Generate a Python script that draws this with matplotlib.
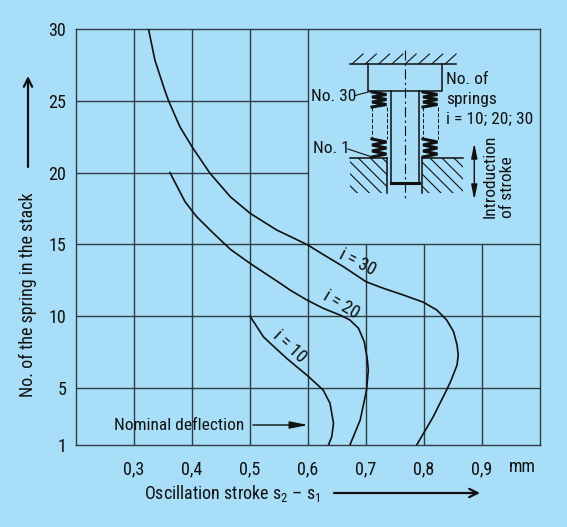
import numpy as np
import matplotlib
matplotlib.use("Agg")
import matplotlib.pyplot as plt
from matplotlib import font_manager as fm
from matplotlib.patches import Rectangle

names = {f.name for f in fm.fontManager.ttflist}
fam = 'Liberation Sans'
for cand in ['Roboto Condensed', 'Archivo Narrow', 'PT Sans Narrow', 'Asap Condensed',
             'IBM Plex Sans Condensed', 'Liberation Sans Narrow']:
    if cand in names:
        fam = cand
        break
plt.rcParams['font.family'] = [fam, 'DejaVu Sans']
plt.rcParams['mathtext.fontset'] = 'custom'
plt.rcParams['mathtext.rm'] = fam

BG = '#a8def7'
GRID = '#2e3b44'
INK = '#111111'

# curve data: x = oscillation stroke (mm), y = spring number
i30_x = [0.325, 0.336, 0.351, 0.359, 0.379, 0.400, 0.431, 0.466, 0.500, 0.546, 0.572,
         0.600, 0.626, 0.661, 0.700, 0.730, 0.764, 0.799, 0.822, 0.839, 0.851, 0.857,
         0.859, 0.857, 0.847, 0.839, 0.816, 0.787]
i30_y = [30.0, 27.84, 25.98, 25.06, 23.20, 21.80, 19.95, 18.32, 17.17, 16.00, 15.50,
         14.95, 14.30, 13.45, 12.40, 11.94, 11.48, 10.97, 10.43, 9.74, 8.92, 8.00,
         7.30, 6.60, 5.56, 4.86, 3.00, 1.0]
i20_x = [0.362, 0.388, 0.408, 0.437, 0.466, 0.500, 0.552, 0.569, 0.598, 0.626, 0.655,
         0.672, 0.687, 0.697, 0.702, 0.704, 0.701, 0.690, 0.672]
i20_y = [20.0, 17.97, 16.93, 15.77, 14.66, 13.68, 12.29, 11.82, 11.13, 10.55, 10.08,
         9.74, 9.16, 8.22, 7.07, 6.25, 4.86, 2.77, 1.0]
i10_x = [0.500, 0.523, 0.535, 0.563, 0.601, 0.626, 0.638, 0.644, 0.641, 0.635]
i10_y = [10.0, 8.57, 8.11, 7.07, 5.79, 4.86, 3.93, 2.54, 1.61, 1.0]

curves = [(i30_x, i30_y), (i20_x, i20_y), (i10_x, i10_y)]
curve_labels = ['i = 30', 'i = 20', 'i = 10']
label_pos = [(0.686, 13.75, -27), (0.658, 10.8, -31), (0.568, 7.9, -43)]

xticks = [0.3, 0.4, 0.5, 0.6, 0.7, 0.8, 0.9]
xticklabels = ['0,3', '0,4', '0,5', '0,6', '0,7', '0,8', '0,9']
yticks = [1, 5, 10, 15, 20, 25, 30]

# region at top right kept free for the sketch
box_x0, box_y0 = 0.6, 15

fig = plt.figure(figsize=(5.67, 5.27), dpi=100, facecolor=BG)
ax = fig.add_axes([76/567, 1-445.4/527, 464/567, 416.4/527])
ax.set_facecolor(BG)
ax.set_xlim(0.2, 1.0)
ax.set_ylim(1, 30)

for x in xticks:
    top = 30 if x <= box_x0 else box_y0
    ax.vlines(x, 1, top, color=GRID, lw=1.0, zorder=1)
for y in yticks[1:-1]:
    right = 1.0 if y <= box_y0 else box_x0
    ax.hlines(y, 0.2, right, color=GRID, lw=1.0, zorder=1)

for s in ax.spines.values():
    s.set_color(GRID)
    s.set_linewidth(1.0)

ax.set_xticks(xticks)
ax.set_xticklabels(xticklabels)
ax.set_yticks(yticks)
ax.tick_params(length=0, labelsize=13, colors=INK)
ax.tick_params(axis='x', pad=11)
ax.tick_params(axis='y', pad=7)

for (cx, cy) in curves:
    ax.plot(cx, cy, color=INK, lw=1.2, zorder=3, solid_joinstyle='round')
for lab, (lx, ly, rot) in zip(curve_labels, label_pos):
    ax.text(lx, ly, lab, rotation=rot, ha='center', va='center', fontsize=13,
            color=INK, rotation_mode='anchor')

ax.text(0.266, 2.42, 'Nominal deflection', ha='left', va='center', fontsize=12.5, color=INK)
ax.annotate('', xy=(0.6, 2.42), xytext=(0.505, 2.42),
            arrowprops=dict(arrowstyle='-|>,head_length=1.1,head_width=0.22',
                            color=INK, lw=1.0, shrinkA=0, shrinkB=0))

# overlay in pixel coordinates for labels and the sketch
ov = fig.add_axes([0, 0, 1, 1], zorder=5)
ov.set_xlim(0, 567)
ov.set_ylim(527, 0)
ov.axis('off')
ov.patch.set_alpha(0)

ov.text(522.6, 466.7, 'mm', ha='center', va='center', fontsize=13, color=INK)
ov.text(144, 493, 'Oscillation stroke s$\\mathregular{_2}$ – s$\\mathregular{_1}$',
        ha='left', va='center', fontsize=13, color=INK)
ov.annotate('', xy=(480, 493), xytext=(334, 493),
            arrowprops=dict(arrowstyle='->,head_length=0.6,head_width=0.3', color=INK, lw=1.6,
                            shrinkA=0, shrinkB=0))
ov.text(28, 397, 'No. of the spring in the stack', rotation=90, ha='center', va='bottom',
        fontsize=13, color=INK)
ov.annotate('', xy=(28, 76), xytext=(28, 167),
            arrowprops=dict(arrowstyle='->,head_length=0.6,head_width=0.3', color=INK, lw=1.6,
                            shrinkA=0, shrinkB=0))

# sketch of the spring stack
lw = 1.1
ov.plot([350, 456], [64, 64], color=INK, lw=lw)
for h in np.arange(352, 452, 13.3):
    ov.plot([h, h + 11], [64, 54], color=INK, lw=0.8)
ov.plot([368, 368, 442, 442], [64, 91, 91, 64], color=INK, lw=lw)
ov.plot([390.7, 390.7], [91, 183], color=INK, lw=lw)
ov.plot([419, 419], [91, 183], color=INK, lw=lw)
ov.plot([390.7, 419], [183, 183], color=INK, lw=2.2)
ov.plot([405, 405], [50, 200], color=INK, lw=0.8, ls=(0, (9, 3, 2, 3)))

for (xl, xr) in [(372.0, 386.5), (423.0, 437.5)]:
    for (ya, yb) in [(92, 107), (139, 157)]:
        ys = np.linspace(ya, yb, 7)
        xs = [xl if k % 2 == 0 else xr for k in range(7)]
        ov.plot(xs, ys, color=INK, lw=2.2, solid_joinstyle='miter')
    ov.plot([xl, xl], [107, 139], color=INK, lw=0.7, ls=(0, (4, 2)))
    ov.plot([xr, xr], [107, 139], color=INK, lw=0.7, ls=(0, (4, 2)))

ov.plot([350, 387.3], [157.7, 157.7], color=INK, lw=lw)
ov.plot([421.7, 463], [157.7, 157.7], color=INK, lw=lw)
ov.plot([387.3, 387.3], [157.7, 193], color=INK, lw=lw)
ov.plot([421.7, 421.7], [157.7, 193], color=INK, lw=lw)
for (r0, r1) in [(350, 387.3), (421.7, 463)]:
    clip = Rectangle((r0, 157.7), r1 - r0, 35.3, transform=ov.transData, fill=False, lw=0)
    ov.add_patch(clip)
    for c in np.arange(r0 - 40, r1, 12):
        ln, = ov.plot([c, c + 40], [157.7, 197.7], color=INK, lw=0.8)
        ln.set_clip_path(clip)

ov.text(333.3, 96.7, 'No. 30', ha='center', va='center', fontsize=12.5, color=INK)
ov.plot([355, 370], [95.5, 91.5], color=INK, lw=0.8)
ov.text(331.7, 148.3, 'No. 1', ha='center', va='center', fontsize=12.5, color=INK)
ov.plot([348, 372], [149, 157], color=INK, lw=0.8)

ov.text(446, 71.5, 'No. of\nsprings\ni = 10; 20; 30', ha='left', va='top', fontsize=12.5,
        color=INK, linespacing=1.42)
ov.annotate('', xy=(474.3, 143), xytext=(474.3, 200),
            arrowprops=dict(arrowstyle='<|-|>,head_length=0.9,head_width=0.18', color=INK,
                            lw=1.0, shrinkA=0, shrinkB=0))
ov.text(499, 218.3, 'Introduction\nof stroke', rotation=90, ha='center', va='bottom',
        multialignment='left', fontsize=12.5, color=INK, linespacing=1.2)

fig.savefig('out.png', dpi=100, facecolor=BG)
